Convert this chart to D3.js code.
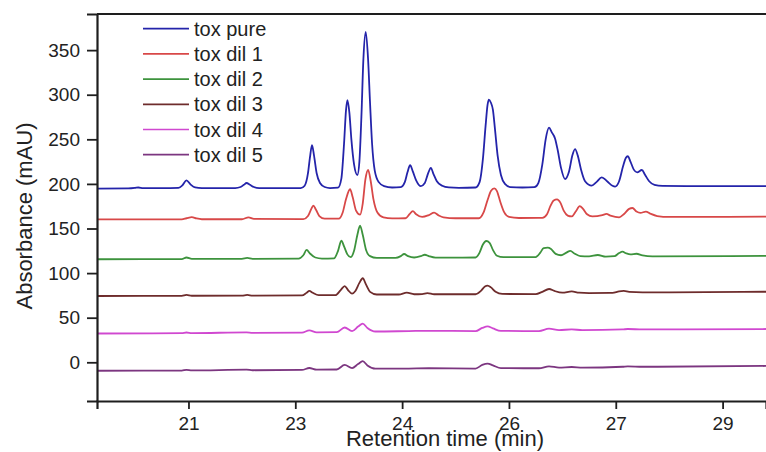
<!DOCTYPE html>
<html>
<head>
<meta charset="utf-8">
<script src="https://cdn.jsdelivr.net/npm/d3@7/dist/d3.min.js"></script>
<style>
  html, body { margin: 0; padding: 0; background: #fff; }
  svg { display: block; font-family: "Liberation Sans", Arial, sans-serif; }
</style>
</head>
<body>
<svg id="chart" width="766" height="452"></svg>
<script>
// HPLC chromatograms: [retention time (min), absorbance (mAU)]
const toxPure = [[19.63,194.8],[20.1,194.9],[20.2,195.5],[20.25,196],[20.32,195.3],[20.6,195.2],[20.85,195.6],[20.91,198.5],[20.97,204],[21.03,199.5],[21.1,196],[21.2,195.2],[21.7,195.3],[21.78,196.5],[21.83,199],[21.87,201],[21.92,199],[21.98,196.5],[22.06,195.3],[22.68,195.2],[22.74,198],[22.79,212],[22.82,230],[22.85,243.5],[22.88,232],[22.92,212],[22.97,201],[23.04,196.5],[23.12,195.3],[23.24,195.8],[23.29,206],[23.33,245],[23.36,283],[23.38,294],[23.41,280],[23.44,250],[23.48,222],[23.53,210],[23.56,225],[23.59,275],[23.62,340],[23.655,370.5],[23.69,340],[23.72,290],[23.75,245],[23.79,215],[23.85,202],[23.93,197.5],[24.05,196],[24.18,196.5],[24.24,202],[24.28,213],[24.32,221],[24.36,214],[24.41,204],[24.48,197.5],[24.54,201],[24.59,212],[24.63,218],[24.67,211],[24.72,203],[24.8,198],[24.9,196],[25.05,195.5],[25.3,196],[25.36,202],[25.41,228],[25.45,265],[25.48,289],[25.5,294.5],[25.53,291],[25.56,283],[25.59,262],[25.63,232],[25.68,210],[25.74,200],[25.82,196.5],[26.0,196],[26.18,196.3],[26.24,201],[26.3,222],[26.35,250],[26.4,263],[26.44,258],[26.49,251],[26.53,238],[26.58,218],[26.64,205.5],[26.7,214],[26.75,232],[26.79,239],[26.83,232],[26.88,216],[26.94,203],[27.04,198],[27.11,202],[27.19,207.4],[27.27,203],[27.35,198],[27.39,197],[27.45,203],[27.51,220],[27.55,229],[27.58,231],[27.62,225],[27.67,216],[27.72,213],[27.79,215.6],[27.84,210],[27.9,203],[27.98,199],[28.1,197.8],[28.6,197.5],[29.65,197.6]];

const toxDil1 = [[19.63,160.2],[20.9,160.3],[20.97,161.5],[21.05,162.8],[21.12,161.3],[21.2,160.4],[21.8,160.4],[21.9,162.5],[21.98,160.8],[22.72,160.5],[22.79,164],[22.84,172],[22.87,175.6],[22.91,171],[22.96,164],[23.04,161],[23.25,161],[23.31,168],[23.36,183],[23.42,194],[23.46,185],[23.51,170],[23.57,165.5],[23.61,178],[23.65,205],[23.69,215.6],[23.73,203],[23.77,183],[23.83,168],[23.92,162.5],[24.05,161.3],[24.25,161.5],[24.31,166],[24.36,169.4],[24.41,166],[24.5,163],[24.6,165],[24.68,167.7],[24.74,165],[24.82,162.5],[25.0,161.5],[25.35,161.5],[25.42,168],[25.48,182],[25.53,192],[25.58,195],[25.62,192],[25.67,180],[25.73,168],[25.8,163],[25.95,161.8],[26.3,162],[26.37,166],[26.42,175],[26.47,181.5],[26.52,182.7],[26.57,179],[26.62,170],[26.68,164.5],[26.74,163.5],[26.8,169],[26.86,175],[26.91,172],[26.97,166],[27.05,163.5],[27.2,165],[27.26,166.3],[27.32,164.5],[27.45,162.5],[27.52,166],[27.6,172],[27.65,173],[27.71,169],[27.77,167.5],[27.85,169],[27.92,166.5],[28.02,164],[28.2,163],[29.65,163.3]];

const toxDil2 = [[19.63,115.5],[20.9,115.7],[20.97,117.5],[21.05,116],[21.8,116],[21.88,117],[21.96,116],[22.65,116.2],[22.72,120],[22.77,126],[22.82,122],[22.9,117.5],[23.0,116.3],[23.18,116.5],[23.24,125],[23.29,136.4],[23.33,130],[23.38,121],[23.43,117.8],[23.48,125],[23.53,143],[23.57,153.2],[23.61,143],[23.66,126],[23.72,119],[23.82,117],[24.1,117],[24.18,119],[24.23,121.4],[24.29,119],[24.38,117.5],[24.48,119],[24.54,120.6],[24.6,119],[24.7,117.3],[25.3,117.5],[25.36,123],[25.41,132],[25.46,136],[25.51,134],[25.56,126],[25.62,119.5],[25.72,117.8],[26.2,118],[26.27,123],[26.32,128],[26.38,128.5],[26.43,127],[26.5,121.5],[26.58,120],[26.66,123],[26.72,125],[26.78,122],[26.87,119],[27.0,118.8],[27.13,120.3],[27.25,118.5],[27.38,119],[27.45,122.5],[27.5,124],[27.56,122],[27.62,121],[27.71,121.7],[27.8,119.8],[27.95,118.8],[29.65,119.3]];

const toxDil3 = [[19.63,74.3],[20.9,74.5],[20.97,75.5],[21.05,74.6],[21.8,74.7],[21.88,75.5],[21.96,74.7],[22.7,75],[22.77,78],[22.81,80],[22.86,78],[22.95,75.3],[23.2,75.3],[23.28,81],[23.34,85.5],[23.39,81],[23.45,77],[23.5,80],[23.56,89],[23.61,94.2],[23.66,87],[23.72,79],[23.82,76],[24.15,76],[24.27,78],[24.38,76.3],[24.5,76.5],[24.58,77.5],[24.68,76.3],[25.3,76.3],[25.38,80],[25.44,85],[25.48,85.9],[25.53,84],[25.6,79],[25.7,76.6],[26.2,76.4],[26.3,79],[26.4,82.2],[26.48,80],[26.6,78],[26.74,79.6],[26.85,78],[27.0,77.6],[27.35,77.8],[27.45,79.5],[27.52,80],[27.6,79],[27.8,78.5],[28.2,78.5],[29.65,79.1]];

const toxDil4 = [[19.63,32.3],[20.9,32.6],[20.97,33.4],[21.05,32.7],[21.87,33.5],[21.96,33],[22.7,33.3],[22.81,35.8],[22.92,33.6],[23.22,33.8],[23.34,39],[23.45,35],[23.54,40],[23.61,43.3],[23.68,38.5],[23.8,34.5],[24.3,35],[24.6,35.3],[25.3,35],[25.4,38.5],[25.48,40.2],[25.56,38],[25.68,35.2],[26.25,35],[26.4,37.7],[26.55,36],[26.74,37],[26.9,36],[27.5,36.8],[27.58,37.3],[27.8,36.8],[29.65,37.3]];

const toxDil5 = [[19.63,-9.5],[20.9,-9.3],[20.97,-8.4],[21.05,-9.1],[21.87,-8.3],[21.96,-8.9],[22.7,-8.6],[22.81,-6.4],[22.92,-8.3],[23.22,-8.1],[23.34,-3],[23.45,-6.5],[23.54,-2],[23.61,1.2],[23.68,-3.5],[23.8,-7.2],[24.3,-7],[24.6,-6.7],[25.3,-7],[25.4,-3],[25.48,-1.5],[25.56,-3.5],[25.68,-6.5],[26.25,-6.7],[26.4,-4.5],[26.55,-6],[26.74,-5.3],[26.9,-6],[27.5,-5],[27.58,-4.5],[27.8,-5],[29.65,-4.1]];

const seriesNames = ["tox pure", "tox dil 1", "tox dil 2", "tox dil 3", "tox dil 4", "tox dil 5"];
const seriesData = [toxPure, toxDil1, toxDil2, toxDil3, toxDil4, toxDil5];
const seriesColors = ["#2424aa", "#d84848", "#3d933d", "#6e2c2c", "#d048d0", "#7c3680"];

const yTicks = [0, 50, 100, 150, 200, 250, 300, 350];
const xTicks = [21, 22.6, 24.2, 25.8, 27.4, 29];
const xTickLabels = ["21", "23", "24", "26", "27", "29"];

const svg = d3.select("#chart");
const plot = { left: 97, top: 14, bottom: 401, right: 766 };

const x = d3.scaleLinear().domain([19.63, 29.65]).range([plot.left, plot.right]);
const y = d3.scaleLinear().domain([-43.4, 390.5]).range([plot.bottom, plot.top]);

svg.append("defs").append("clipPath").attr("id", "plotClip")
  .append("rect")
  .attr("x", plot.left).attr("y", plot.top)
  .attr("width", plot.right - plot.left).attr("height", plot.bottom - plot.top);

// traces
const line = d3.line()
  .x(d => x(d[0]))
  .y(d => y(d[1]))
  .curve(d3.curveMonotoneX);

const traces = svg.append("g").attr("clip-path", "url(#plotClip)");
seriesData.forEach((data, i) => {
  traces.append("path")
    .datum(data)
    .attr("fill", "none")
    .attr("stroke", seriesColors[i])
    .attr("stroke-width", 1.8)
    .attr("stroke-linejoin", "round")
    .attr("d", line);
});

// axes
const yAxis = d3.axisLeft(y).tickValues(yTicks).tickSize(10).tickPadding(7);
const xAxis = d3.axisBottom(x).tickValues(xTicks)
  .tickFormat((d, i) => xTickLabels[i]).tickSize(8).tickPadding(8);

const gy = svg.append("g").attr("transform", `translate(${plot.left},0)`).call(yAxis);
const gx = svg.append("g").attr("transform", `translate(0,${plot.bottom})`).call(xAxis);

[gx, gy].forEach(g => {
  g.select(".domain").attr("stroke", "#1e1e1e").attr("stroke-width", 2.2);
  g.selectAll(".tick line").attr("stroke", "#1e1e1e").attr("stroke-width", 1.8);
  g.selectAll(".tick text")
    .attr("fill", "#222")
    .style("font-size", "19px")
    .style("font-family", "'Liberation Sans', Arial, sans-serif");
});

// frame top edge
svg.append("line")
  .attr("x1", plot.left).attr("x2", plot.right)
  .attr("y1", plot.top).attr("y2", plot.top)
  .attr("stroke", "#1e1e1e").attr("stroke-width", 2.2);

// axis titles
svg.append("text")
  .attr("x", 445).attr("y", 446)
  .attr("text-anchor", "middle")
  .attr("fill", "#222")
  .style("font-size", "22px")
  .text("Retention time (min)");

svg.append("text")
  .attr("transform", "translate(32,216) rotate(-90)")
  .attr("text-anchor", "middle")
  .attr("fill", "#222")
  .style("font-size", "22px")
  .text("Absorbance (mAU)");

// legend
const legend = svg.append("g");
seriesNames.forEach((name, i) => {
  const ly = 28.7 + i * 25.2;
  legend.append("line")
    .attr("x1", 143).attr("x2", 189)
    .attr("y1", ly).attr("y2", ly)
    .attr("stroke", seriesColors[i]).attr("stroke-width", 1.7);
  legend.append("text")
    .attr("x", 194).attr("y", ly + 7)
    .attr("fill", "#222")
    .style("font-size", "20px")
    .text(name);
});
</script>
</body>
</html>
